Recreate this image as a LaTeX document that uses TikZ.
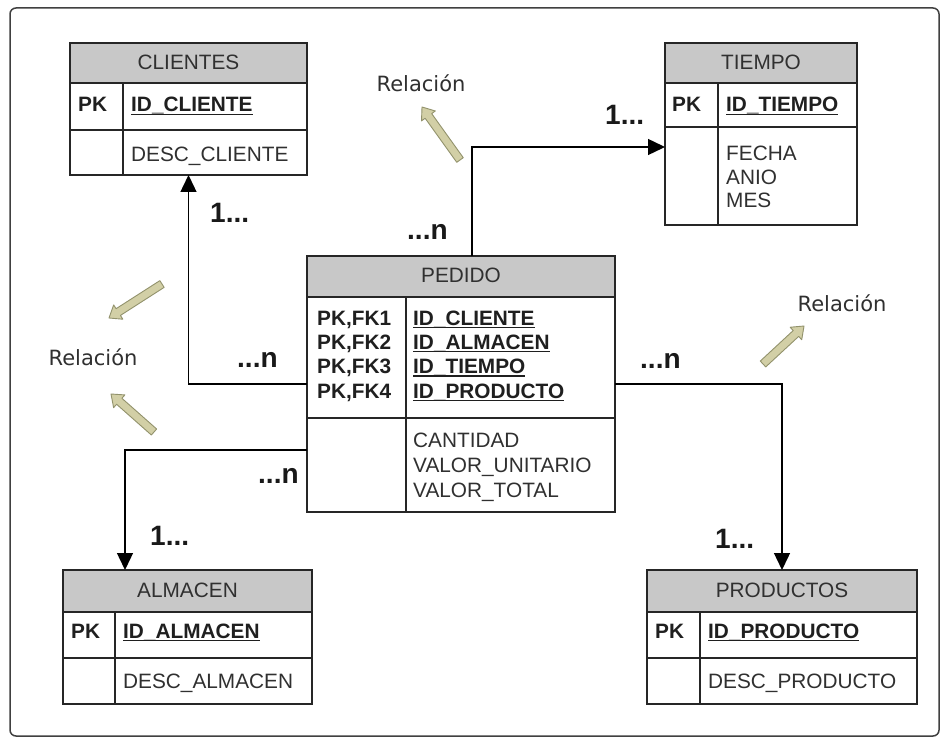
\documentclass[tikz,border=0pt]{standalone}
\usepackage{fontspec}
\setmainfont{Liberation Sans}
\newfontfamily\relfont{DejaVu Sans}
\usetikzlibrary{arrows.meta,calc}

\definecolor{hdrgray}{RGB}{200,200,200}
\definecolor{txtgray}{RGB}{48,48,48}
\definecolor{linegray}{RGB}{38,38,38}
\definecolor{ptrfill}{RGB}{210,207,166}
\definecolor{ptredge}{RGB}{146,146,108}

% underlined primary-key name with a heavier rule
\newsavebox\keybox
\newcommand\ukey[1]{\sbox\keybox{#1}\rlap{\rule[-3pt]{\wd\keybox}{1.4pt}}\usebox\keybox}

% thick pointer arrow from #1 (tail) to #2 (tip)
\newcommand\fatarrow[2]{%
  \coordinate (fa-base) at ($(#2)!11pt!(#1)$);
  \filldraw[pointer] ($(#1)!4pt!90:(#2)$) -- ($(fa-base)!4pt!90:(#2)$)
    -- ($(fa-base)!8.5pt!90:(#2)$) -- (#2) -- ($(fa-base)!8.5pt!-90:(#2)$)
    -- ($(fa-base)!4pt!-90:(#2)$) -- ($(#1)!4pt!-90:(#2)$) -- cycle;
}

\begin{document}
\begin{tikzpicture}[x=1pt, y=-1pt,
  tbl/.style={draw=linegray, line width=1.6pt, inner sep=0pt, outer sep=0pt, rectangle},
  sep/.style={draw=linegray, line width=1.6pt},
  title/.style={anchor=base, inner sep=0pt, font=\fontsize{20.8}{24}\selectfont, text=txtgray},
  key/.style={anchor=base west, inner sep=0pt, font=\fontsize{20.8}{24}\selectfont\bfseries, text=black!88},
  attr/.style={anchor=base west, inner sep=0pt, font=\fontsize{20.8}{24}\selectfont, text=txtgray},
  card/.style={anchor=base west, inner sep=0pt, font=\fontsize{28}{30}\selectfont\bfseries, text=black!90},
  rel/.style={draw=black, line width=1.4pt, -{Triangle[length=17pt,width=16pt]}},
  relnote/.style={inner sep=0pt, font={\relfont\fontsize{21}{24}\selectfont}, text=txtgray},
  pointer/.style={fill=ptrfill, draw=ptredge, line width=0.9pt, line join=round}]

\useasboundingbox (0,0) rectangle (944,743);
\fill[white] (0,0) rectangle (944,743);

% outer frame
\draw[draw=black!75, line width=1.5pt, rounded corners=6pt] (10,8) rectangle (939,736);

% ---------- CLIENTES ----------
\fill[hdrgray] (70,43) rectangle (307,83);
\node[tbl, minimum width=237pt, minimum height=132pt] (clientes) at (188.5,109) {};
\draw[sep] (70,83) -- (307,83) (70,130) -- (307,130) (123,83) -- (123,175);
\node[title] (clientes-t) at (188.5,70) {CLIENTES};
\node[key] (clientes-pk) at (78,112) {PK};
\node[key] (clientes-id) at (131,112) {\ukey{ID\_CLIENTE}};
\node[attr] (clientes-a1) at (131,162) {DESC\_CLIENTE};

% ---------- TIEMPO ----------
\fill[hdrgray] (665,43) rectangle (857,83);
\node[tbl, minimum width=192pt, minimum height=182pt] (tiempo) at (761,134) {};
\draw[sep] (665,83) -- (857,83) (665,127) -- (857,127) (718,83) -- (718,225);
\node[title] (tiempo-t) at (761,70) {TIEMPO};
\node[key] (tiempo-pk) at (672,112) {PK};
\node[key] (tiempo-id) at (726,112) {\ukey{ID\_TIEMPO}};
\node[attr] (tiempo-a1) at (726,161) {FECHA};
\node[attr] (tiempo-a2) at (726,185) {ANIO};
\node[attr] (tiempo-a3) at (726,208) {MES};

% ---------- PEDIDO ----------
\fill[hdrgray] (307,256) rectangle (615,297);
\node[tbl, minimum width=308pt, minimum height=256pt] (pedido) at (461,384) {};
\draw[sep] (307,297) -- (615,297) (307,418) -- (615,418) (406,297) -- (406,512);
\node[title] (pedido-t) at (461,282) {PEDIDO};
\node[key] (pedido-k1) at (317,325) {PK,FK1};
\node[key] (pedido-k2) at (317,349) {PK,FK2};
\node[key] (pedido-k3) at (317,373.5) {PK,FK3};
\node[key] (pedido-k4) at (317,398) {PK,FK4};
\node[key] (pedido-id1) at (413,325) {\ukey{ID\_CLIENTE}};
\node[key] (pedido-id2) at (413,349) {\ukey{ID\_ALMACEN}};
\node[key] (pedido-id3) at (413,373.5) {\ukey{ID\_TIEMPO}};
\node[key] (pedido-id4) at (413,398) {\ukey{ID\_PRODUCTO}};
\node[attr] (pedido-a1) at (413,447) {CANTIDAD};
\node[attr] (pedido-a2) at (413,472) {VALOR\_UNITARIO};
\node[attr] (pedido-a3) at (413,497) {VALOR\_TOTAL};

% ---------- ALMACEN ----------
\fill[hdrgray] (63,570) rectangle (312,612);
\node[tbl, minimum width=249pt, minimum height=134pt] (almacen) at (187.5,637) {};
\draw[sep] (63,612) -- (312,612) (63,658) -- (312,658) (115,612) -- (115,704);
\node[title] (almacen-t) at (187.5,597) {ALMACEN};
\node[key] (almacen-pk) at (71,638) {PK};
\node[key] (almacen-id) at (123,638) {\ukey{ID\_ALMACEN}};
\node[attr] (almacen-a1) at (123,688) {DESC\_ALMACEN};

% ---------- PRODUCTOS ----------
\fill[hdrgray] (647,570) rectangle (917,612);
\node[tbl, minimum width=270pt, minimum height=134pt] (productos) at (782,637) {};
\draw[sep] (647,612) -- (917,612) (647,658) -- (917,658) (700,612) -- (700,704);
\node[title] (productos-t) at (782,597) {PRODUCTOS};
\node[key] (productos-pk) at (655,638) {PK};
\node[key] (productos-id) at (708,638) {\ukey{ID\_PRODUCTO}};
\node[attr] (productos-a1) at (708,688) {DESC\_PRODUCTO};

% ---------- relationships ----------
\draw[rel] (pedido.west) -| (clientes.south);
\draw[rel] ([xshift=11pt]pedido.north) |- ([yshift=-13pt]tiempo.west);
\draw[rel] ([yshift=-66pt]pedido.west) -| ([xshift=-62.5pt]almacen.north);
\draw[rel] (pedido.east) -| (productos.north);

% cardinalities
\node[card] (card-c1) at (210,223) {1...};
\node[card] (card-cn) at (237,367) {...n};
\node[card] (card-t1) at (605,125) {1...};
\node[card] (card-tn) at (407,240) {...n};
\node[card] (card-an) at (258,483) {...n};
\node[card] (card-a1) at (150,545) {1...};
\node[card] (card-pn) at (640,368) {...n};
\node[card] (card-p1) at (715,548) {1...};

% notes with pointer arrows
\node[relnote] (note-top) at (421,83) {Relación};
\node[relnote] (note-left) at (93,357) {Relación};
\node[relnote] (note-right) at (842,303) {Relación};

\coordinate (ptr1a) at (460,160); \coordinate (ptr1b) at (422,107);
\coordinate (ptr2a) at (162,284); \coordinate (ptr2b) at (109,318);
\coordinate (ptr3a) at (154,432); \coordinate (ptr3b) at (111,394);
\coordinate (ptr4a) at (763,364); \coordinate (ptr4b) at (804,326);
\fatarrow{ptr1a}{ptr1b}
\fatarrow{ptr2a}{ptr2b}
\fatarrow{ptr3a}{ptr3b}
\fatarrow{ptr4a}{ptr4b}
\end{tikzpicture}
\end{document}
